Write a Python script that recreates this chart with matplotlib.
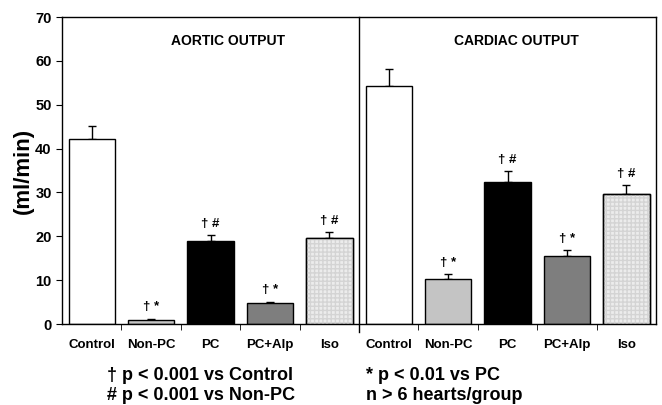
import matplotlib.pyplot as plt
import numpy as np

plt.rcParams['font.family'] = ['Liberation Sans', 'DejaVu Sans']

groups = ["Control", "Non-PC", "PC", "PC+Alp", "Iso"]
aortic = [42.1, 1.0, 18.9, 4.7, 19.6]
aortic_err = [3.0, 0.2, 1.4, 0.4, 1.4]
cardiac = [54.3, 10.2, 32.4, 15.5, 29.7]
cardiac_err = [3.8, 1.1, 2.5, 1.4, 2.0]
marks = ["", "† *", "† #", "† *", "† #"]
colors = ["white", "#c4c4c4", "black", "#7e7e7e", "#ececec"]

values = aortic + cardiac
errs = aortic_err + cardiac_err
labels = groups + groups
bar_colors = colors + colors
bar_marks = marks + marks
x = np.arange(len(values)) + 0.5

fig = plt.figure(figsize=(6.62, 4.05), dpi=100)
ax = fig.add_axes([0.0937, 0.2, 0.8973, 0.758])

ax.bar(x, values, width=0.78, color=bar_colors, edgecolor="black", linewidth=1.0,
       zorder=2)
# light stipple on the Iso bars
iso = [4, 9]
ax.bar(x[iso], [values[i] for i in iso], width=0.78, color="none",
       edgecolor="#d4d4d4", hatch="++++", linewidth=0, zorder=3)
ax.bar(x[iso], [values[i] for i in iso], width=0.78, color="none",
       edgecolor="black", linewidth=1.0, zorder=4)

ax.errorbar(x, values, yerr=[np.zeros(len(errs)), errs], fmt="none",
            ecolor="black", elinewidth=1.0, capsize=3, capthick=1.0, zorder=1)

for xi, v, e, m in zip(x, values, errs, bar_marks):
    if m:
        ax.text(xi, v + e + 1.2, m, ha="center", va="bottom", fontsize=9.5,
                fontweight="bold")

ax.text(2.8, 64.5, "AORTIC OUTPUT", ha="center", va="center", fontsize=10,
        fontweight="bold")
ax.text(7.65, 64.5, "CARDIAC OUTPUT", ha="center", va="center", fontsize=10,
        fontweight="bold")

ax.plot([5, 5], [70, -1.9], color="black", linewidth=1.0, clip_on=False)

ax.set_xlim(0, 10)
ax.set_ylim(0, 70)
ax.set_yticks(np.arange(0, 71, 10))
ax.set_xticks(x)
ax.set_xticklabels(labels, fontsize=9.5, fontweight="bold")
ax.set_xticks(np.arange(1, 10), minor=True)
ax.tick_params(axis="x", which="major", length=0, pad=11)
ax.tick_params(axis="x", which="minor", length=4, direction="out")
ax.tick_params(axis="y", length=4, direction="out", labelsize=10.5)
for lab in ax.get_yticklabels():
    lab.set_fontweight("bold")
ax.set_ylabel("(ml/min)", fontsize=16, fontweight="bold", labelpad=1)

for s in ax.spines.values():
    s.set_linewidth(1.0)

fig.text(0.161, 0.0617, "† p < 0.001 vs Control", fontsize=13,
         fontweight="bold", va="baseline")
fig.text(0.161, 0.0123, "# p < 0.001 vs Non-PC", fontsize=13,
         fontweight="bold", va="baseline")
fig.text(0.553, 0.0617, "* p < 0.01 vs PC", fontsize=13,
         fontweight="bold", va="baseline")
fig.text(0.553, 0.0123, "n > 6 hearts/group", fontsize=13,
         fontweight="bold", va="baseline")

fig.savefig("out.png", dpi=100)
